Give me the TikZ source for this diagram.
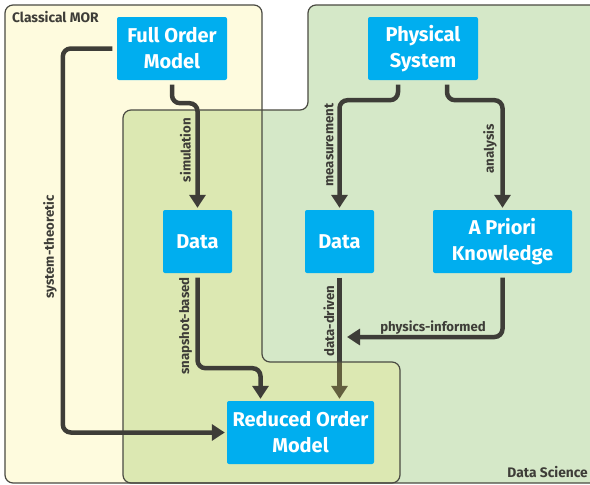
\documentclass[tikz,border=0pt]{standalone}
\usepackage{fontspec}
\setmainfont{Fira Sans}
\usetikzlibrary{arrows.meta,calc}
\definecolor{nodeblue}{HTML}{00AEEF}
\definecolor{lineC}{HTML}{3E3D38}
\definecolor{dsgreen}{HTML}{D5E8C8}
\definecolor{cmyel}{RGB}{250,235,90}
\definecolor{regline}{HTML}{4A4A42}
\pgfdeclarelayer{bg}
\pgfsetlayers{bg,main}
\begin{document}
\begin{tikzpicture}[x=1pt,y=-1pt,
  box/.style={fill=nodeblue, rounded corners=2pt, text=white,
    font=\fontsize{20}{26}\selectfont\bfseries, align=center,
    inner sep=0pt, minimum height=63pt},
  conn/.style={draw=lineC, line width=4.5pt, rounded corners=8pt,
    -{Triangle[length=13pt,width=16pt]}, shorten <=4.5pt, shorten >=2pt},
  elab/.style={text=lineC, font=\fontsize{13.2}{15}\selectfont\bfseries,
    rotate=90, inner sep=0pt},
  rlab/.style={text=lineC, font=\fontsize{13.8}{16}\selectfont\bfseries, inner sep=0pt},
  region/.style={draw=regline, line width=1.2pt, rounded corners=8pt}]
\useasboundingbox (0,0) rectangle (590,485);

% nodes
\node[box, minimum width=110pt] (fom) at (172,48.5) {Full Order\\Model};
\node[box, minimum width=110pt] (phys) at (423,48.5) {Physical\\System};
\node[box, minimum width=69pt] (dataL) at (197.5,241.5) {Data};
\node[box, minimum width=69pt] (dataM) at (339.5,241.5) {Data};
\node[box, minimum width=139pt] (apk) at (502.5,241.5) {A Priori\\Knowledge};
\node[box, minimum width=147pt] (rom) at (300.5,432.5) {Reduced Order\\Model};
\coordinate (pi) at (347,337);

\begin{pgfonlayer}{bg}
  \fill[white] (0,0) rectangle (590,485);
  \fill[dsgreen, rounded corners=8pt] (308,5) -- (600,5) -- (600,483) -- (123,483) -- (123,110) -- (308,110) -- cycle;
  \draw[conn] (dataM.south) -- (dataM.south |- rom.north);
  \fill[cmyel, fill opacity=0.2, rounded corners=8pt] (5,5) -- (262,5) -- (262,362) -- (400,362) -- (400,483) -- (5,483) -- cycle;
  \draw[region] (308,5) -- (600,5) -- (600,483) -- (123,483) -- (123,110) -- (308,110) -- cycle;
  \draw[region] (5,5) -- (262,5) -- (262,362) -- (400,362) -- (400,483) -- (5,483) -- cycle;
\end{pgfonlayer}

% region labels
\node[rlab, anchor=west] (lcm) at (12,17) {Classical MOR};
\node[rlab, anchor=east] (lds) at (588,472) {Data Science};

% connectors
\draw[conn] (fom.south) -- ++(0,23) -| (dataL.north);
\draw[conn] (fom.west) -- ++(-54,0) |- (rom.west);
\draw[conn] ([xshift=-25pt]phys.south) -- ++(0,20) -| (dataM.north);
\draw[conn] ([xshift=24pt]phys.south) -- ++(0,20) -| (apk.north);
\draw[conn] (dataL.south) -- ++(0,95) -| ([xshift=-40pt]rom.north);
\draw[conn, shorten >=0pt] (apk.south) |- (pi);

% edge labels
\node[elab] (l1) at (185.5,150) {simulation};
\node[elab] (l2) at (50,247) {system-theoretic};
\node[elab] (l3) at (329,145) {measurement};
\node[elab] (l4) at (490,149) {analysis};
\node[elab] (l5) at (185.5,326) {snapshot-based};
\node[elab] (l6) at (329,321) {data-driven};
\node[elab, rotate=-90] (l7) at (433,327.5) {physics-informed};
\end{tikzpicture}
\end{document}
